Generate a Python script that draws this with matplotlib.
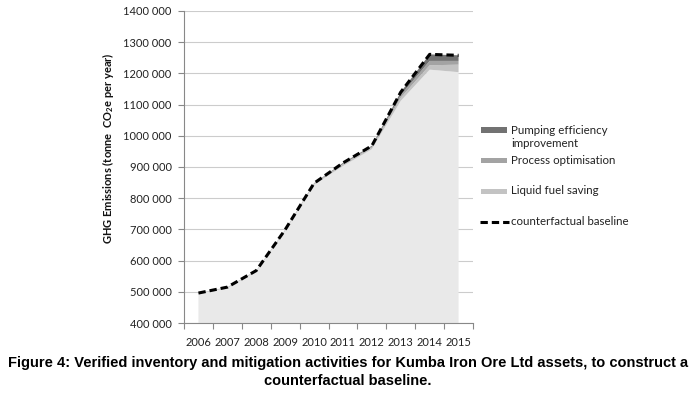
import matplotlib
matplotlib.use("Agg")
import matplotlib.pyplot as plt
from matplotlib.patches import Rectangle
from matplotlib.lines import Line2D
from matplotlib.ticker import FuncFormatter
import numpy as np

plt.rcParams["mathtext.fontset"] = "custom"
plt.rcParams["mathtext.rm"] = "Lato:bold"
plt.rcParams["mathtext.it"] = "Lato:bold"
plt.rcParams["mathtext.bf"] = "Lato:bold"

years = ["2006", "2007", "2008", "2009", "2010", "2011", "2012", "2013", "2014", "2015"]
base = [494000, 512000, 565000, 695000, 843000, 903000, 957000, 1112000, 1212000, 1204000]
liquid_fuel = [2000, 3000, 3000, 4000, 3000, 5000, 5000, 10000, 14000, 24000]
process_opt = [0, 0, 0, 0, 1000, 2000, 3000, 8000, 14000, 12000]
pumping_eff = [0, 0, 0, 0, 1000, 3000, 3000, 10000, 21000, 18000]
counterfactual = [496000, 515000, 568000, 699000, 848000, 913000, 968000, 1140000, 1261000, 1258000]
yticks = [400000, 500000, 600000, 700000, 800000, 900000, 1000000, 1100000, 1200000, 1300000, 1400000]

legend_labels = ["Pumping efficiency\nimprovement", "Process optimisation", "Liquid fuel saving", "counterfactual baseline"]
c_base = "#e9e9e9"
c_liquid = "#c3c3c3"
c_process = "#a3a3a3"
c_pump = "#727272"

W, H = 696, 396
fig = plt.figure(figsize=(W / 100, H / 100), dpi=100)
fig.patch.set_facecolor("white")
ax = fig.add_axes([184 / W, 1 - 323 / H, (473 - 184) / W, (323 - 11) / H])

x = np.arange(len(years))
ax.stackplot(x, base, liquid_fuel, process_opt, pumping_eff,
             colors=[c_base, c_liquid, c_process, c_pump], linewidth=0, zorder=2)
ax.plot(x, counterfactual, color="black", lw=2.2, dashes=(2.4, 1.3), zorder=3,
        dash_capstyle="butt")

ax.set_xlim(-0.5, len(years) - 0.5)
ax.set_ylim(400000, 1400000)
ax.set_yticks(yticks)
ax.yaxis.set_major_formatter(FuncFormatter(lambda v, p: f"{int(v)//1000} {int(v)%1000:03d}"))
ax.set_xticks(x)
ax.set_xticklabels(years)
ax.set_xticks(np.arange(-0.5, len(years)), minor=True)
ax.tick_params(axis="x", which="major", length=0, pad=10)
ax.tick_params(axis="x", which="minor", length=4, color="#888888", width=0.8)
ax.tick_params(axis="y", length=4, color="#888888", width=0.8, pad=5)
for lab in ax.get_xticklabels() + ax.get_yticklabels():
    lab.set_fontfamily("Lato")
    lab.set_fontsize(8)
    lab.set_color("#222222")

ax.grid(axis="y", color="#cccccc", lw=0.8, zorder=0)
ax.set_axisbelow(True)
for s in ["top", "right"]:
    ax.spines[s].set_visible(False)
for s in ["left", "bottom"]:
    ax.spines[s].set_color("#888888")
    ax.spines[s].set_linewidth(0.8)
ax.set_facecolor("none")

fig.text(108 / W, 1 - 148 / H, r"GHG Emissions (tonne  CO$_2$e per year)", rotation=90,
         ha="center", va="center", fontsize=8, fontweight="bold", family="Lato", color="#111111")

# legend
items = [(130, c_pump), (160.5, c_process), (191, c_liquid)]
for (yc, col) in items:
    fig.add_artist(Rectangle((481 / W, 1 - (yc + 2.5) / H), 26 / W, 5 / H, transform=fig.transFigure,
                             facecolor=col, edgecolor="none"))
fig.add_artist(Line2D([480 / W, 509 / W], [1 - 221.5 / H] * 2, transform=fig.transFigure,
                      color="black", lw=2.2, dashes=(2.4, 1.3)))
text_y = [137, 160.5, 191, 221.5]
for lab, ty in zip(legend_labels, text_y):
    fig.text(511 / W, 1 - ty / H, lab, ha="left", va="center", fontsize=8.3, family="Lato",
             color="#222222", linespacing=1.15)

fig.text(0.5, 1 - 356 / H, "Figure 4: Verified inventory and mitigation activities for Kumba Iron Ore Ltd assets, to construct a\ncounterfactual baseline.",
         ha="center", va="top", fontsize=10.5, fontweight="bold", family="Liberation Sans",
         linespacing=1.4)

fig.savefig("out.png", dpi=100)
